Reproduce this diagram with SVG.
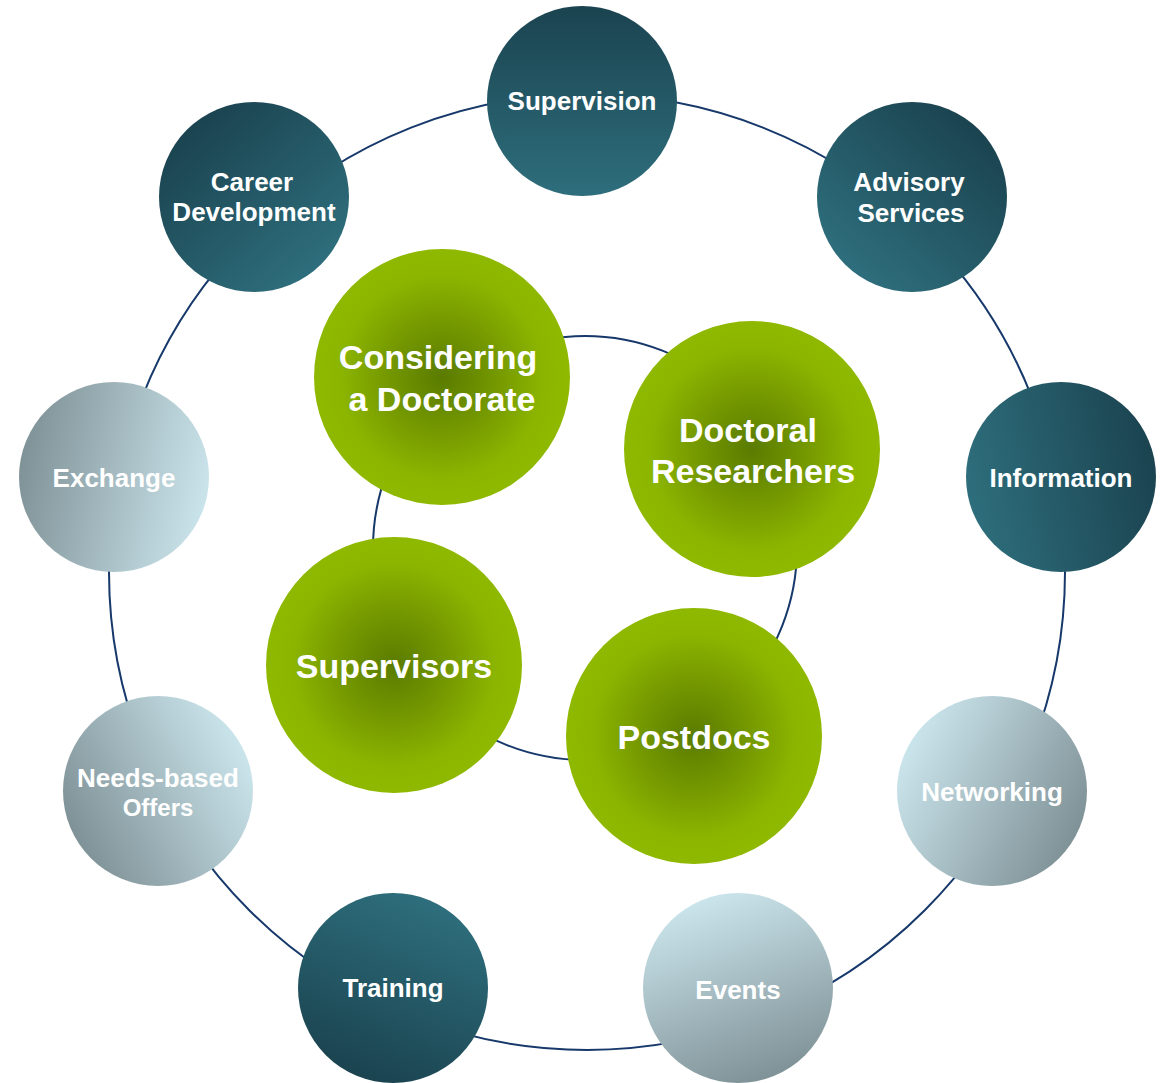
<svg xmlns="http://www.w3.org/2000/svg" width="1171" height="1083" viewBox="0 0 1171 1083">
<defs>
<linearGradient id="gSup" x1="0.5" y1="1" x2="0.5" y2="0"><stop offset="0" stop-color="#2e6e7c"/><stop offset="1" stop-color="#1b4350"/></linearGradient>
<linearGradient id="gCar" x1="0.83" y1="0.88" x2="0.17" y2="0.12"><stop offset="0" stop-color="#2e6e7c"/><stop offset="1" stop-color="#1b4350"/></linearGradient>
<linearGradient id="gAdv" x1="0.17" y1="0.88" x2="0.83" y2="0.12"><stop offset="0" stop-color="#2e6e7c"/><stop offset="1" stop-color="#1b4350"/></linearGradient>
<linearGradient id="gInf" x1="0.01" y1="0.6" x2="0.99" y2="0.4"><stop offset="0" stop-color="#2e6e7c"/><stop offset="1" stop-color="#1b4350"/></linearGradient>
<linearGradient id="gTra" x1="0.69" y1="0.04" x2="0.31" y2="0.96"><stop offset="0" stop-color="#2e6e7c"/><stop offset="1" stop-color="#1b4350"/></linearGradient>
<linearGradient id="gNet" x1="0.06" y1="0.27" x2="0.94" y2="0.73"><stop offset="0" stop-color="#cae4eb"/><stop offset="1" stop-color="#7f9297"/></linearGradient>
<linearGradient id="gEve" x1="0.33" y1="0.03" x2="0.67" y2="0.97"><stop offset="0" stop-color="#cae4eb"/><stop offset="1" stop-color="#7f9297"/></linearGradient>
<linearGradient id="gNee" x1="0.94" y1="0.27" x2="0.06" y2="0.73"><stop offset="0" stop-color="#cae4eb"/><stop offset="1" stop-color="#7f9297"/></linearGradient>
<linearGradient id="gExc" x1="0.99" y1="0.6" x2="0.01" y2="0.4"><stop offset="0" stop-color="#cae4eb"/><stop offset="1" stop-color="#7f9297"/></linearGradient>
<radialGradient id="gGreen" cx="0.5" cy="0.5" r="0.5"><stop offset="0" stop-color="#5a7b00"/><stop offset="0.45" stop-color="#769a00"/><stop offset="0.8" stop-color="#8cb500"/><stop offset="1" stop-color="#8fb800"/></radialGradient>
</defs>
<style>
.ring{fill:none;stroke:#16386a;stroke-width:2}
.t{font-family:"Liberation Sans",Arial,sans-serif;font-weight:bold;fill:#ffffff;text-anchor:middle}
.o{font-size:26px}
.s{font-size:24px}
.g{font-size:34px}
</style>
<rect width="1171" height="1083" fill="#ffffff"/>
<g id="connectors">
<circle class="ring" cx="587" cy="572" r="478"/>
<circle class="ring" cx="585" cy="548" r="212"/>
</g>
<g id="supervision"><circle cx="582" cy="101" r="95" fill="url(#gSup)"/><text class="t o" x="582" y="110">Supervision</text></g>
<g id="career-development"><circle cx="254" cy="197" r="95" fill="url(#gCar)"/><text class="t o" x="252" y="191">Career</text><text class="t o" x="254" y="221">Development</text></g>
<g id="advisory-services"><circle cx="912" cy="197" r="95" fill="url(#gAdv)"/><text class="t o" x="909" y="191">Advisory</text><text class="t o" x="911" y="222">Services</text></g>
<g id="information"><circle cx="1061" cy="477" r="95" fill="url(#gInf)"/><text class="t o" x="1061" y="487">Information</text></g>
<g id="networking"><circle cx="992" cy="791" r="95" fill="url(#gNet)"/><text class="t o" x="992" y="801">Networking</text></g>
<g id="events"><circle cx="738" cy="988" r="95" fill="url(#gEve)"/><text class="t o" x="738" y="999">Events</text></g>
<g id="training"><circle cx="393" cy="988" r="95" fill="url(#gTra)"/><text class="t o" x="393" y="997">Training</text></g>
<g id="needs-based-offers"><circle cx="158" cy="791" r="95" fill="url(#gNee)"/><text class="t o" x="158" y="787">Needs-based</text><text class="t s" x="158" y="816">Offers</text></g>
<g id="exchange"><circle cx="114" cy="477" r="95" fill="url(#gExc)"/><text class="t o" x="114" y="487">Exchange</text></g>
<g id="considering-a-doctorate"><circle cx="442" cy="377" r="128" fill="url(#gGreen)"/><text class="t g" x="438" y="369">Considering</text><text class="t g" x="442" y="411">a Doctorate</text></g>
<g id="doctoral-researchers"><circle cx="752" cy="449" r="128" fill="url(#gGreen)"/><text class="t g" x="748" y="442">Doctoral</text><text class="t g" x="753" y="483">Researchers</text></g>
<g id="supervisors"><circle cx="394" cy="665" r="128" fill="url(#gGreen)"/><text class="t g" x="394" y="678">Supervisors</text></g>
<g id="postdocs"><circle cx="694" cy="736" r="128" fill="url(#gGreen)"/><text class="t g" x="694" y="749">Postdocs</text></g>
</svg>
